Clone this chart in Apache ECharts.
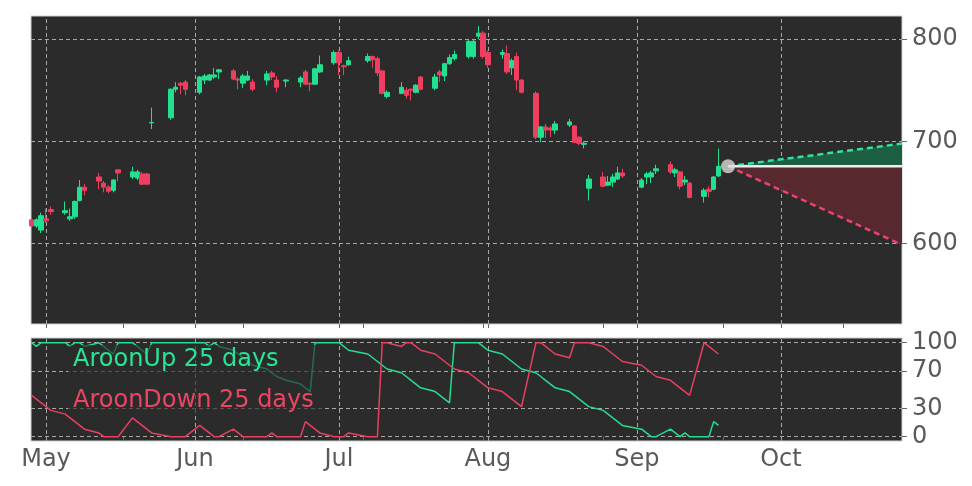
<!DOCTYPE html>
<html>
<head>
<meta charset="utf-8">
<script src="https://cdn.jsdelivr.net/npm/echarts@6/dist/echarts.min.js"></script>
<style>
  html, body { margin: 0; padding: 0; background: #fff; }
  #chart { width: 972px; height: 486px; }
</style>
</head>
<body>
<div id="chart"></div>
<script>
// trading days, one line per week
const dates = [
  '2025-04-28', '2025-04-29', '2025-04-30', '2025-05-01', '2025-05-02',
  '2025-05-05', '2025-05-06', '2025-05-07', '2025-05-08', '2025-05-09',
  '2025-05-12', '2025-05-13', '2025-05-14', '2025-05-15', '2025-05-16',
  '2025-05-19', '2025-05-20', '2025-05-21', '2025-05-22', '2025-05-23',
  '2025-05-27', '2025-05-28', '2025-05-29', '2025-05-30',
  '2025-06-02', '2025-06-03', '2025-06-04', '2025-06-05', '2025-06-06',
  '2025-06-09', '2025-06-10', '2025-06-11', '2025-06-12', '2025-06-13',
  '2025-06-16', '2025-06-17', '2025-06-18', '2025-06-20',
  '2025-06-23', '2025-06-24', '2025-06-25', '2025-06-26', '2025-06-27',
  '2025-06-30', '2025-07-01', '2025-07-02', '2025-07-03',
  '2025-07-07', '2025-07-08', '2025-07-09', '2025-07-10', '2025-07-11',
  '2025-07-14', '2025-07-15', '2025-07-16', '2025-07-17', '2025-07-18',
  '2025-07-21', '2025-07-22', '2025-07-23', '2025-07-24', '2025-07-25',
  '2025-07-28', '2025-07-29', '2025-07-30', '2025-07-31', '2025-08-01',
  '2025-08-04', '2025-08-05', '2025-08-06', '2025-08-07', '2025-08-08',
  '2025-08-11', '2025-08-12', '2025-08-13', '2025-08-14', '2025-08-15',
  '2025-08-18', '2025-08-19', '2025-08-20', '2025-08-21', '2025-08-22',
  '2025-08-25', '2025-08-26', '2025-08-27', '2025-08-28', '2025-08-29',
  '2025-09-02', '2025-09-03', '2025-09-04', '2025-09-05',
  '2025-09-08', '2025-09-09', '2025-09-10', '2025-09-11', '2025-09-12',
  '2025-09-15', '2025-09-16', '2025-09-17', '2025-09-18'
];

// [open, close, low, high]
const ohlc = [
  [623, 617, 616, 624], [617, 623, 615, 624.5], [613, 627, 610, 630], [624, 622, 620, 634], [633, 631, 628, 636],
  [630, 632, 628, 641], [624, 626, 622, 634], [626, 641, 624, 642], [642, 655, 641, 662], [655, 652, 647, 658],
  [665, 661, 653, 669], [659, 655, 650, 661], [655, 651, 649, 657], [652, 662, 650, 663], [672, 669, 661, 672],
  [665, 670, 663, 675], [664, 670, 662, 672], [668, 658, 657, 670], [668, 658, 657, 669], [718, 718.5, 712, 733],
  [723, 751, 721, 752], [751, 753, 748, 758], [757, 755, 746, 758], [758, 751, 745, 760],
  [748, 763, 746, 764], [760, 764, 756, 766], [760, 765, 759, 766], [763, 765, 761, 772], [768, 770, 761, 771],
  [769, 761, 760, 771], [761, 760, 751, 763], [757, 764, 752, 766], [760, 764, 759, 769], [758, 751, 749, 761],
  [760, 766, 755, 769], [767, 763, 760, 769], [760, 753, 748, 764], [759, 760, 753, 761],
  [758, 762, 753, 764], [768, 756, 755, 770], [757, 756, 749, 758], [756, 771, 755, 772], [768, 775, 767, 784],
  [777, 787, 775, 789], [787, 777, 765, 789], [774, 773, 765, 775], [775, 779, 774, 783],
  [779, 783, 777, 786], [783, 780, 772, 784], [781, 767, 764, 783], [769, 747, 746, 770], [744, 748, 742, 750],
  [747, 753, 746, 758], [750, 745, 742, 753], [751, 750, 740, 752], [748, 755, 747, 756], [763, 751, 750, 764],
  [752, 763, 750, 766], [768, 765, 758, 770], [764, 776, 759, 777], [776, 782, 775, 785], [781, 785, 779, 789],
  [783, 798, 781, 799], [783, 798, 781, 800], [803, 806, 800, 813], [806, 783, 781, 808], [787, 775, 772, 789],
  [785, 787, 781, 790], [786, 768, 766, 794], [772, 779, 765, 781], [783, 760, 750, 787], [760, 748, 747, 761],
  [747, 704, 702, 749], [704, 714, 699, 715], [714, 711, 703, 717], [713, 711, 704, 715], [711, 717, 707, 720],
  [716, 719, 714, 722], [715, 699, 698, 716], [704, 698, 696, 705], [697, 698, 693, 700], [654, 663, 642, 667],
  [665, 656, 655, 670], [657, 660, 656, 666], [660, 665, 655, 668], [663, 669, 662, 675], [669, 666, 664, 673],
  [655, 662, 654, 664], [665, 668, 658, 670], [665, 669, 659, 671], [671, 673, 668, 677],
  [677, 670, 668, 680], [669, 672, 665, 674], [670, 656, 653, 671], [660, 662, 657, 666], [659, 645, 644, 660],
  [646, 652, 640, 654], [653, 651, 645, 656], [653, 665, 652, 666], [666, 675.5, 665, 693]
];

const aroonUp = [
  100, 96, 100, 100, 100,
  100, 96, 100, 100, 96,
  100, 96, 92, 88, 100,
  100, 96, 92, 88, 100,
  100, 100, 100, 100,
  100, 100, 96, 100, 96,
  92, 88, 84, 80, 76,
  72, 68, 64, 60,
  56, 52, 48, 100, 100,
  100, 100, 96, 92,
  88, 84, 80, 76, 72,
  68, 64, 60, 56, 52,
  48, 44, 40, 36, 100,
  100, 100, 100, 96, 92,
  88, 84, 80, 76, 72,
  68, 64, 60, 56, 52,
  48, 44, 40, 36, 32,
  28, 24, 20, 16, 12,
  8, 4, 0, 0,
  8, 4, 0, 4, 0,
  0, 0, 16, 12
];

const aroonDown = [
  44, 40, 36, 32, 28,
  24, 20, 16, 12, 8,
  4, 0, 0, 0, 0,
  20, 16, 12, 8, 4,
  0, 0, 0, 0,
  12, 8, 4, 0, 0,
  8, 4, 0, 0, 0,
  0, 4, 0, 0,
  0, 16, 12, 8, 4,
  0, 0, 0, 4,
  0, 0, 0, 100, 100,
  96, 100, 100, 96, 92,
  88, 84, 80, 76, 72,
  68, 64, 60, 56, 52,
  48, 44, 40, 36, 32,
  100, 100, 96, 92, 88,
  84, 100, 100, 100, 100,
  96, 92, 88, 84, 80,
  76, 72, 68, 64,
  60, 56, 52, 48, 44,
  100, 96, 92, 88
];

const priceTicks = [600, 700, 800];
const aroonTicks = [0, 30, 70, 100];
const monthTicks = ['2025-05-01', '2025-06-01', '2025-07-01', '2025-08-01', '2025-09-01', '2025-10-01'];
const minorTicks = ['2025-05-17', '2025-06-11', '2025-07-06', '2025-07-31', '2025-08-25', '2025-09-19', '2025-10-14'];
const monthNames = ['Jan', 'Feb', 'Mar', 'Apr', 'May', 'Jun', 'Jul', 'Aug', 'Sep', 'Oct', 'Nov', 'Dec'];

// forecast cone
const coneStart = '2025-09-20';
const coneEnd = '2025-10-26T05:00:00';
const coneHigh = 697.7;
const coneLow = 598.5;

const t = s => new Date(s.length === 10 ? s + 'T00:00:00' : s).getTime();
const xMin = t('2025-04-27T21:00:00');
const xMax = t(coneEnd);

const UP = '#22e090';
const DOWN = '#ee3f60';
const FONT = 'DejaVu Sans';
const LABEL_SIZE = 24;
const gridLine = { color: '#a8a8a8', type: [4, 3], width: 1 };

const lastClose = ohlc[ohlc.length - 1][1];
const candles = dates.map((d, i) => [t(d), ...ohlc[i]]);
const tickTimes = monthTicks.concat(minorTicks).map(t);

const chartDom = document.getElementById('chart');
const myChart = echarts.init(chartDom);

// dates are plotted on a value axis of timestamps
const xAxisBase = {
  type: 'value',
  min: xMin,
  max: xMax,
  axisLine: { show: false },
  splitLine: { show: false },
  axisTick: { show: true, length: 4, customValues: tickTimes, lineStyle: { color: '#666' } }
};

const yAxisBase = {
  type: 'value',
  position: 'right',
  axisLine: { show: false },
  splitLine: { show: false },
  axisTick: { show: true, length: 5, lineStyle: { color: '#666' } },
  axisLabel: { color: '#595959', fontSize: LABEL_SIZE, fontFamily: FONT, margin: 10 }
};

const triangle = (params, api) => {
  const p0 = api.coord([api.value(0), api.value(1)]);
  const p1 = api.coord([api.value(2), api.value(3)]);
  const p2 = api.coord([api.value(2), api.value(1)]);
  return { type: 'polygon', shape: { points: [p0, p1, p2] }, style: { fill: api.visual('color') } };
};

const option = {
  animation: false,
  backgroundColor: '#ffffff',
  textStyle: { fontFamily: FONT },
  grid: [
    { left: 31, width: 871, top: 16, height: 308, show: true, backgroundColor: '#2b2b2b', borderColor: '#cfcfcf', borderWidth: 1 },
    { left: 31, width: 871, top: 338, height: 103, show: true, backgroundColor: '#2b2b2b', borderColor: '#cfcfcf', borderWidth: 1 }
  ],
  xAxis: [
    Object.assign({ gridIndex: 0, axisLabel: { show: false } }, xAxisBase),
    Object.assign({ gridIndex: 1 }, xAxisBase, {
      axisLabel: {
        customValues: monthTicks.map(t),
        formatter: v => monthNames[new Date(v).getMonth()],
        color: '#595959', fontSize: LABEL_SIZE, fontFamily: FONT, margin: 7
      }
    })
  ],
  yAxis: [
    Object.assign({}, yAxisBase, {
      gridIndex: 0, min: 520.9, max: 822.8,
      axisTick: Object.assign({}, yAxisBase.axisTick, { customValues: priceTicks }),
      axisLabel: Object.assign({}, yAxisBase.axisLabel, { customValues: priceTicks })
    }),
    Object.assign({}, yAxisBase, {
      gridIndex: 1, min: -4.6, max: 105,
      axisTick: Object.assign({}, yAxisBase.axisTick, { customValues: aroonTicks }),
      axisLabel: Object.assign({}, yAxisBase.axisLabel, { customValues: aroonTicks })
    })
  ],
  series: [
    {
      type: 'candlestick',
      xAxisIndex: 0, yAxisIndex: 0,
      data: candles,
      barWidth: 5,
      itemStyle: { color: UP, color0: DOWN, borderColor: UP, borderColor0: DOWN, borderWidth: 1 },
      markLine: {
        silent: true, z: 1, symbol: 'none', label: { show: false }, lineStyle: gridLine,
        data: priceTicks.map(v => ({ yAxis: v })).concat(monthTicks.map(d => ({ xAxis: t(d) })))
      }
    },
    {
      type: 'custom', xAxisIndex: 0, yAxisIndex: 0,
      renderItem: triangle, encode: { x: [0, 2], y: [1, 3] },
      itemStyle: { color: '#1d5f42' },
      data: [[t(coneStart), lastClose, t(coneEnd), coneHigh]], z: 3
    },
    {
      type: 'custom', xAxisIndex: 0, yAxisIndex: 0,
      renderItem: triangle, encode: { x: [0, 2], y: [1, 3] },
      itemStyle: { color: '#57282e' },
      data: [[t(coneStart), lastClose, t(coneEnd), coneLow]], z: 3
    },
    {
      type: 'line', xAxisIndex: 0, yAxisIndex: 0, symbol: 'none', z: 4,
      lineStyle: { color: '#2fe39c', width: 2.5, type: [6, 4] },
      data: [[t(coneStart), lastClose], [t(coneEnd), coneHigh]]
    },
    {
      type: 'line', xAxisIndex: 0, yAxisIndex: 0, symbol: 'none', z: 4,
      lineStyle: { color: '#e8446e', width: 2.5, type: [6, 4] },
      data: [[t(coneStart), lastClose], [t(coneEnd), coneLow]]
    },
    {
      type: 'line', xAxisIndex: 0, yAxisIndex: 0, symbol: 'none', z: 4,
      lineStyle: { color: '#eeeeee', width: 2.5 },
      data: [[t(coneStart), lastClose], [t(coneEnd), lastClose]]
    },
    {
      type: 'scatter', xAxisIndex: 0, yAxisIndex: 0, z: 6,
      symbolSize: 14, itemStyle: { color: '#d9d9d9' },
      data: [[t(coneStart), lastClose]]
    },
    {
      name: 'AroonUp', type: 'line', xAxisIndex: 1, yAxisIndex: 1,
      symbol: 'none', lineStyle: { color: '#26dc8e', width: 1.5 },
      data: dates.map((d, i) => [t(d), aroonUp[i]]),
      markLine: {
        silent: true, z: 1, symbol: 'none', label: { show: false }, lineStyle: gridLine,
        data: aroonTicks.map(v => ({ yAxis: v })).concat(monthTicks.map(d => ({ xAxis: t(d) })))
      }
    },
    {
      name: 'AroonDown', type: 'line', xAxisIndex: 1, yAxisIndex: 1,
      symbol: 'none', lineStyle: { color: '#e8405f', width: 1.5 },
      data: dates.map((d, i) => [t(d), aroonDown[i]])
    }
  ],
  graphic: [
    { type: 'rect', z: 100, shape: { x: 68, y: 345, width: 254, height: 70, r: 4 }, style: { fill: 'rgba(43,43,43,0.65)' } },
    { type: 'text', z: 101, x: 73, y: 360, style: { text: 'AroonUp 25 days', fill: '#28e495', fontSize: LABEL_SIZE, fontFamily: FONT, verticalAlign: 'middle' } },
    { type: 'text', z: 101, x: 73, y: 401, style: { text: 'AroonDown 25 days', fill: '#ec4563', fontSize: LABEL_SIZE, fontFamily: FONT, verticalAlign: 'middle' } }
  ]
};

option && myChart.setOption(option);
</script>
</body>
</html>
